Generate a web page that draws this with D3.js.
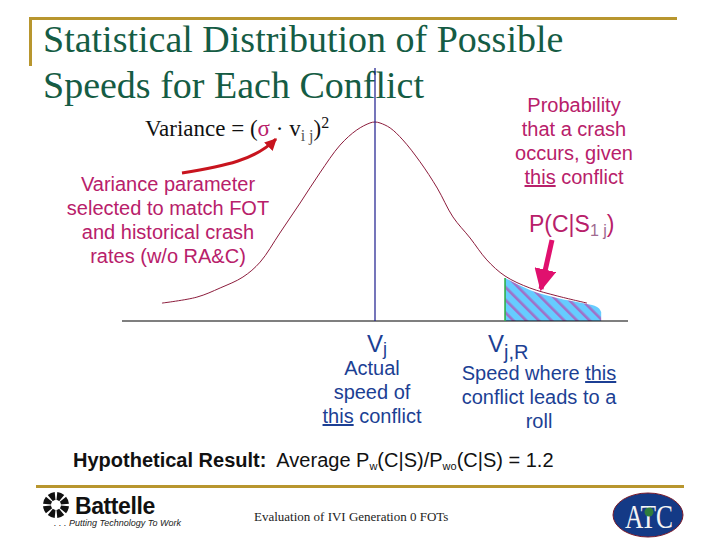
<!DOCTYPE html>
<html>
<head>
<meta charset="utf-8">
<script src="https://cdn.jsdelivr.net/npm/d3@7"></script>
<style>
  html, body { margin: 0; padding: 0; background: #fff; }
  svg { display: block; }
  .serif { font-family: "Liberation Serif", serif; }
  .sans { font-family: "Liberation Sans", sans-serif; }
</style>
</head>
<body>
<div id="chart"></div>
<script>
// values (speed and density on a 0-100 scale)
const speeds = [7.9, 14.8, 19.4, 23.9, 27.3, 31.2, 35.2, 39.1, 43.1, 46.4, 49, 50, 51, 53, 55.5, 58.9, 62.3, 65.4, 68.8, 72.1, 75.7, 80.6, 86, 91.9];
const densities = [9, 12, 16.6, 22.1, 29.6, 44.2, 59.3, 74.4, 88.4, 96, 99.5, 100, 99.5, 97, 91, 80, 66.8, 52.3, 41.7, 30.7, 22.6, 16.6, 12.6, 9];
const crashSpeeds = [75.7, 80.6, 86, 91.9, 93.9, 94.7, 94.7];
const crashDensities = [21.6, 15.6, 11.6, 8.5, 7, 4.5, 0];
const actualSpeed = 50;
const rollSpeed = 75.7;

const titleLines = ["Statistical Distribution of Possible", "Speeds for Each Conflict"];
const probLines = ["Probability", "that a crash", "occurs, given"];
const paramLines = ["Variance parameter", "selected to match FOT", "and historical crash", "rates (w/o RA&C)"];

const navy = "#1c3f94", magenta = "#b8206a", gold = "#b8962e", green = "#155c44";

const svg = d3.select("#chart").append("svg").attr("width", 720).attr("height", 540);

const x = d3.scaleLinear().domain([0, 100]).range([122, 628]);
const y = d3.scaleLinear().domain([0, 100]).range([321, 122]);

// hatch for the crash area
const defs = svg.append("defs");
const hatch = defs.append("pattern")
  .attr("id", "hatch")
  .attr("patternUnits", "userSpaceOnUse")
  .attr("width", 9).attr("height", 9)
  .attr("patternTransform", "rotate(-45)");
hatch.append("rect").attr("width", 9).attr("height", 9).attr("fill", "#66ccff");
hatch.append("rect").attr("width", 2.6).attr("height", 9).attr("fill", "#a070c8");

// frame
svg.append("path").attr("d", "M30.5,66V18.5H677").attr("fill", "none").attr("stroke", gold).attr("stroke-width", 3);
svg.append("line").attr("x1", 36).attr("x2", 684).attr("y1", 486.5).attr("y2", 486.5).attr("stroke", gold).attr("stroke-width", 3);

// title
svg.append("g").selectAll("text").data(titleLines).enter().append("text")
  .attr("class", "serif")
  .attr("x", 43)
  .attr("y", (d, i) => 52 + i * 46)
  .attr("font-size", 38)
  .attr("fill", green)
  .text(d => d);

// area + curve
const area = d3.area().x(d => x(d[0])).y0(y(0)).y1(d => y(d[1])).curve(d3.curveMonotoneX);
svg.append("path")
  .datum(d3.zip(crashSpeeds, crashDensities))
  .attr("d", area)
  .attr("fill", "url(#hatch)");

const line = d3.line().x(d => x(d[0])).y(d => y(d[1])).curve(d3.curveCatmullRom);
svg.append("path")
  .datum(d3.zip(speeds, densities))
  .attr("d", line)
  .attr("fill", "none")
  .attr("stroke", "#8c1c3c")
  .attr("stroke-width", 1);

// baseline and markers
svg.append("line").attr("x1", x(0)).attr("x2", x(100)).attr("y1", y(0)).attr("y2", y(0)).attr("stroke", "#000").attr("stroke-width", 1.2);
svg.append("line").attr("x1", x(actualSpeed)).attr("x2", x(actualSpeed)).attr("y1", 68).attr("y2", y(0)).attr("stroke", "#1a1a8c").attr("stroke-width", 1.2);
svg.append("line").attr("x1", x(rollSpeed)).attr("x2", x(rollSpeed)).attr("y1", y(crashDensities[0])).attr("y2", y(0)).attr("stroke", "#2fb04a").attr("stroke-width", 1.6);

// variance formula
const formula = svg.append("text").attr("class", "serif").attr("x", 145).attr("y", 136).attr("font-size", 23).attr("fill", "#111");
formula.append("tspan").text("Variance = (");
formula.append("tspan").attr("fill", magenta).text("σ");
formula.append("tspan").text(" · v");
formula.append("tspan").attr("font-size", 16).attr("dy", 5).attr("fill", "#555").text("i j");
formula.append("tspan").attr("dy", -5).text(")");
formula.append("tspan").attr("font-size", 16).attr("dy", -8).text("2");

// left note
svg.append("g").selectAll("text").data(paramLines).enter().append("text")
  .attr("class", "sans")
  .attr("x", 168)
  .attr("y", (d, i) => 191 + i * 24)
  .attr("text-anchor", "middle")
  .attr("font-size", 20)
  .attr("fill", magenta)
  .text(d => d);

// right note
svg.append("g").selectAll("text").data(probLines).enter().append("text")
  .attr("class", "sans")
  .attr("x", 574)
  .attr("y", (d, i) => 112 + i * 24)
  .attr("text-anchor", "middle")
  .attr("font-size", 20)
  .attr("fill", magenta)
  .text(d => d);
const thisConflict = svg.append("text").attr("class", "sans").attr("x", 574).attr("y", 184)
  .attr("text-anchor", "middle").attr("font-size", 20).attr("fill", magenta);
thisConflict.append("tspan").attr("text-decoration", "underline").text("this");
thisConflict.append("tspan").text(" conflict");

const pcs = svg.append("text").attr("class", "sans").attr("x", 529).attr("y", 232).attr("font-size", 23).attr("fill", magenta);
pcs.append("tspan").text("P(C|S");
pcs.append("tspan").attr("font-size", 16).attr("dy", 4).attr("fill", "#a06a90").text("1 j");
pcs.append("tspan").attr("dy", -4).text(")");

// crash arrow
defs.append("marker").attr("id", "tipPink").attr("viewBox", "0 0 10 10").attr("refX", 9).attr("refY", 5)
  .attr("markerWidth", 4.4).attr("markerHeight", 4.4).attr("orient", "auto")
  .append("path").attr("d", "M0,0L10,5L0,10Z").attr("fill", "#e0106e");
svg.append("line").attr("x1", 552).attr("y1", 240).attr("x2", 541).attr("y2", 289)
  .attr("stroke", "#e0106e").attr("stroke-width", 5).attr("marker-end", "url(#tipPink)");

// sigma arrow
defs.append("marker").attr("id", "tipRed").attr("viewBox", "0 0 10 10").attr("refX", 9).attr("refY", 5)
  .attr("markerWidth", 4).attr("markerHeight", 4).attr("orient", "auto")
  .append("path").attr("d", "M0,0L10,5L0,10Z").attr("fill", "#c8141e");
svg.append("path").attr("d", "M182,173C225,166 255,160 276,139").attr("fill", "none")
  .attr("stroke", "#c8141e").attr("stroke-width", 3).attr("marker-end", "url(#tipRed)");

// speed labels
const vj = svg.append("text").attr("class", "sans").attr("x", 367).attr("y", 352).attr("font-size", 24).attr("fill", navy);
vj.append("tspan").text("V");
vj.append("tspan").attr("font-size", 18).attr("dy", 3).text("j");
const vjr = svg.append("text").attr("class", "sans").attr("x", 488).attr("y", 352).attr("font-size", 24).attr("fill", navy);
vjr.append("tspan").text("V");
vjr.append("tspan").attr("font-size", 20).attr("dy", 7).text("j,R");

svg.append("g").selectAll("text").data(["Actual", "speed of"]).enter().append("text")
  .attr("class", "sans").attr("x", 372).attr("y", (d, i) => 375 + i * 24)
  .attr("text-anchor", "middle").attr("font-size", 20).attr("fill", navy).text(d => d);
const tc = svg.append("text").attr("class", "sans").attr("x", 372).attr("y", 423)
  .attr("text-anchor", "middle").attr("font-size", 20).attr("fill", navy);
tc.append("tspan").attr("text-decoration", "underline").text("this");
tc.append("tspan").text(" conflict");

const sw = svg.append("text").attr("class", "sans").attr("x", 539).attr("y", 380)
  .attr("text-anchor", "middle").attr("font-size", 20).attr("fill", navy);
sw.append("tspan").text("Speed where ");
sw.append("tspan").attr("text-decoration", "underline").text("this");
svg.append("g").selectAll("text").data(["conflict leads to a", "roll"]).enter().append("text")
  .attr("class", "sans").attr("x", 539).attr("y", (d, i) => 404 + i * 24)
  .attr("text-anchor", "middle").attr("font-size", 20).attr("fill", navy).text(d => d);

// result line
const res = svg.append("text").attr("class", "sans").attr("x", 73).attr("y", 467).attr("font-size", 20).attr("fill", "#111");
res.append("tspan").attr("font-weight", "bold").text("Hypothetical Result:");
res.append("tspan").attr("xml:space", "preserve").text("  Average P");
res.append("tspan").attr("font-size", 11).attr("dy", 3).text("w");
res.append("tspan").attr("dy", -3).text("(C|S)/P");
res.append("tspan").attr("font-size", 11).attr("dy", 3).text("wo");
res.append("tspan").attr("dy", -3).text("(C|S) = 1.2");

// footer
svg.append("text").attr("class", "serif").attr("x", 254).attr("y", 521)
  .attr("font-size", 13).attr("fill", "#222").text("Evaluation of IVI Generation 0 FOTs");

// Battelle logo
const logo = svg.append("g").attr("transform", "translate(56,505)");
d3.range(8).forEach(i => {
  logo.append("path")
    .attr("d", d3.arc()({ innerRadius: 5, outerRadius: 13, startAngle: i * Math.PI / 4 + 0.1, endAngle: (i + 1) * Math.PI / 4 - 0.1 }))
    .attr("fill", "#111");
});
svg.append("text").attr("class", "sans").attr("x", 75).attr("y", 514).attr("font-size", 23).attr("font-weight", "bold")
  .attr("letter-spacing", -0.4).attr("fill", "#111").text("Battelle");
svg.append("text").attr("class", "sans").attr("x", 54).attr("y", 526).attr("font-size", 9).attr("font-style", "italic")
  .attr("fill", "#222").text(". . . Putting Technology To Work");

// ATC logo
svg.append("ellipse").attr("cx", 648).attr("cy", 515).attr("rx", 35).attr("ry", 22).attr("fill", "#143a86").attr("stroke", "#7a1a2a");
svg.append("text").attr("class", "serif").attr("x", 625).attr("y", 528)
  .attr("font-size", 34).attr("textLength", 48).attr("lengthAdjust", "spacingAndGlyphs")
  .attr("fill", "#f4f4f4").text("ATC");
svg.append("circle").attr("cx", 649).attr("cy", 512).attr("r", 4.5).attr("fill", "#2f7d3c");
</script>
</body>
</html>
